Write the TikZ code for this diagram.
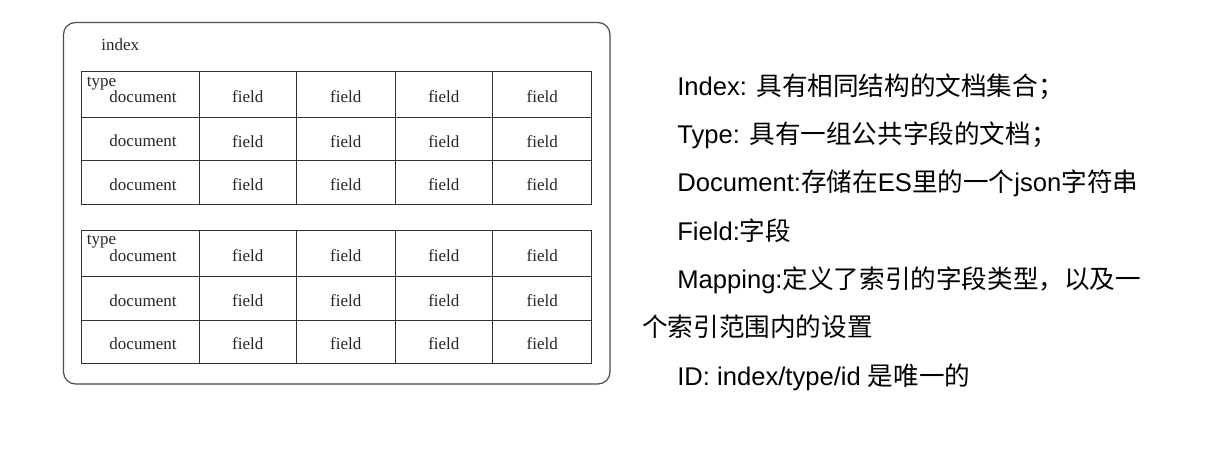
\documentclass[tikz,border=0pt]{standalone}
\usepackage{fontspec}
\setmainfont{Liberation Serif}
\newfontfamily\cjk{Noto Sans CJK SC}
\newfontfamily\arialfont{Liberation Sans}
\usetikzlibrary{positioning}

\begin{document}
\begin{tikzpicture}[x=1pt,y=-1pt,semithick]
  \tikzstyle{cell}=[draw=black!80,line width=1pt]
  \tikzstyle{celltext}=[inner sep=0pt,font=\fontsize{17}{17}\selectfont,text=black!85]
  \tikzstyle{note}=[anchor=base west,inner sep=0pt,font=\fontsize{25.6}{25.6}\selectfont]
  \useasboundingbox (0,0) rectangle (1215,455);

  % outer index box
  \draw[draw=black!70,line width=1.2pt,rounded corners=12pt] (63.5,22.5) rectangle (610,384);
  \node[celltext,anchor=base west] (index) at (101,50) {index};

  % two type tables
  \foreach \tb/\ya/\yb/\yc/\yd in {a/71.7/117.7/160.5/204, b/230/276.7/320/363} {
    \foreach \r/\ytop/\ybot in {1/\ya/\yb, 2/\yb/\yc, 3/\yc/\yd} {
      \foreach \c/\xl/\xr in {0/81.7/199, 1/199/296.5, 2/296.5/395, 3/395/492.7, 4/492.7/591.7}
        \draw[cell] (\xl,\ytop) rectangle (\xr,\ybot);
      \node[celltext] (doc-\tb\r) at (143,{(\ytop+\ybot)/2+2}) {document};
      \foreach \c/\xl/\xr in {1/199/296.5, 2/296.5/395, 3/395/492.7, 4/492.7/591.7}
        \node[celltext] (fld-\tb\r-\c) at ({(\xl+\xr)/2},{(\ytop+\ybot)/2+2}) {field};
    }
    \node[celltext,anchor=base west] (type-\tb) at (86.5,\ya+14.8) {type};
  }

  % legend text
  \node[note] (l-index) at (677,95)    {{\arialfont Index: }{\cjk 具有相同结构的文档集合；}};
  \node[note] (l-type)  at (677,143.3) {{\arialfont Type: }{\cjk 具有一组公共字段的文档；}};
  \node[note] (l-doc)   at (677,191.6) {{\arialfont Document:}{\cjk 存储在}{\arialfont ES}{\cjk 里的一个}{\arialfont json}{\cjk 字符串}};
  \node[note] (l-field) at (677,240)   {{\arialfont Field:}{\cjk 字段}};
  \node[note] (l-map)   at (677,288.3) {{\arialfont Mapping:}{\cjk 定义了索引的字段类型，以及一}};
  \node[note] (l-map2)  at (642,336.6) {{\cjk 个索引范围内的设置}};
  \node[note] (l-id)    at (677,385)   {{\arialfont ID: index/type/id }{\cjk 是唯一的}};
\end{tikzpicture}
\end{document}
